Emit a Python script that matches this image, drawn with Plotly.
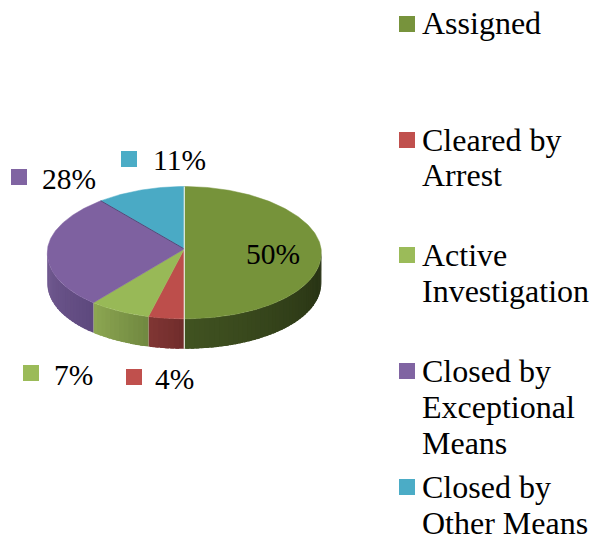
import math
import plotly.graph_objects as go

categories = ["Assigned", "Cleared by Arrest", "Active Investigation",
              "Closed by Exceptional Means", "Closed by Other Means"]
values = [50, 4, 7, 28, 11]
pct_labels = ["50%", "4%", "7%", "28%", "11%"]
legend_lines = [["Assigned"], ["Cleared by", "Arrest"], ["Active", "Investigation"],
                ["Closed by", "Exceptional", "Means"], ["Closed by", "Other Means"]]
colors = ["#77933C", "#C0504D", "#9BBB59", "#8064A2", "#4BACC6"]
top_colors = ["#76933A", "#BD4E4B", "#98B957", "#7E61A0", "#4AAAC5"]
side_start = ["#242E12", "#702C2B", "#708840", "#5E497E", "#3A8499"]
side_end = ["#415321", "#803634", "#8DA752", "#745C93", "#3A8499"]

# geometry of the projected disc (in page pixels)
CX, CY, RX, RY_BACK, RY_FRONT, DEPTH = 184.3, 249.0, 136.8, 62.5, 69.8, 30.0
PERSPECTIVE = 0.055
SERIF = "Liberation Serif"


def rim(t):
    r = math.radians(t)
    ry = RY_BACK if math.cos(r) > 0 else RY_FRONT
    return CX + RX * math.sin(r) * (1 - PERSPECTIVE * math.cos(r)), CY - ry * math.cos(r)


def mix(a, b, f):
    ca = [int(a[i:i + 2], 16) for i in (1, 3, 5)]
    cb = [int(b[i:i + 2], 16) for i in (1, 3, 5)]
    return "rgb(%d,%d,%d)" % tuple(round(p + (q - p) * f) for p, q in zip(ca, cb))


fig = go.Figure()
spans = []
acc = 0
for v in values:
    spans.append((acc * 3.6, (acc + v) * 3.6))
    acc += v


def poly(xs, ys, fill, width=0.0):
    fig.add_trace(go.Scatter(
        x=xs, y=ys, mode="lines", fill="toself", fillcolor=fill,
        line=dict(color=fill, width=width),
        hoverinfo="skip", showlegend=False))


# side wall, as shaded strips that overlap the next one so no seams show
for i, (a, b) in enumerate(spans):
    vis_a, vis_b = max(a, 90), min(b, 270)
    if vis_b <= vis_a:
        continue
    n = max(2, int((vis_b - vis_a) / 2))
    for k in range(n):
        t0 = vis_a + (vis_b - vis_a) * k / n
        t1 = min(vis_b, t0 + (vis_b - vis_a) / n + 1.5)
        ts = [t0, (t0 + t1) / 2, t1]
        rimpts = [rim(t) for t in ts]
        xs = [p[0] for p in rimpts] + [p[0] for p in reversed(rimpts)] + [rimpts[0][0]]
        ys = [p[1] for p in rimpts] + [p[1] + DEPTH for p in reversed(rimpts)] + [rimpts[0][1]]
        poly(xs, ys, mix(side_start[i], side_end[i], (k + 0.5) / n))

# top face
for i, (a, b) in enumerate(spans):
    n = max(6, int(b - a))
    pts = [rim(a + (b - a) * k / n) for k in range(n + 1)]
    xs = [CX] + [p[0] for p in pts] + [CX]
    ys = [CY] + [p[1] for p in pts] + [CY]
    poly(xs, ys, top_colors[i], 0.5)

# dark seam between purple and blue
p = rim(spans[3][1])
fig.add_trace(go.Scatter(x=[CX, p[0]], y=[CY, p[1]], mode="lines",
                         line=dict(color="#5A4478", width=1),
                         hoverinfo="skip", showlegend=False))
# pale seam down the front of the disc
fig.add_trace(go.Scatter(x=[CX, CX], y=[CY - RY_BACK, CY + RY_FRONT + DEPTH], mode="lines",
                         line=dict(color="#E6EDE0", width=1.2),
                         hoverinfo="skip", showlegend=False))

# data labels: text centre and key square position in page pixels
label_text_pos = [(273, 254), (174, 379), (73, 375), (68.5, 179), (179, 160)]
label_key_pos = [None, (134, 377), (31, 373), (19, 177), (129, 159)]
annotations = []
for i, lab in enumerate(pct_labels):
    x, y = label_text_pos[i]
    annotations.append(dict(x=x, y=y, text=lab, showarrow=False, xanchor="center", yanchor="middle",
                            font=dict(family=SERIF, size=29.5, color="#000000")))
    if label_key_pos[i]:
        kx, ky = label_key_pos[i]
        fig.add_trace(go.Scatter(x=[kx], y=[ky], mode="markers",
                                 marker=dict(symbol="square", size=16, color=colors[i], line=dict(width=0)),
                                 hoverinfo="skip", showlegend=False))

# right-hand legend
legend_key_y = [24, 140, 255, 371, 487]
legend_line_y = [[23], [139.5, 175], [255, 291], [371, 407, 443], [487, 523]]
for i, c in enumerate(colors):
    fig.add_trace(go.Scatter(x=[407], y=[legend_key_y[i]], mode="markers",
                             marker=dict(symbol="square", size=16, color=c, line=dict(width=0)),
                             hoverinfo="skip", showlegend=False))
    for line, y in zip(legend_lines[i], legend_line_y[i]):
        annotations.append(dict(x=422, y=y, text=line, showarrow=False, xanchor="left", yanchor="middle",
                                xshift=-2, font=dict(family=SERIF, size=32, color="#000000")))

fig.update_layout(
    width=590, height=538, margin=dict(l=0, r=0, t=0, b=0),
    paper_bgcolor="white", plot_bgcolor="white", showlegend=False,
    xaxis=dict(range=[0, 590], visible=False, fixedrange=True),
    yaxis=dict(range=[538, 0], visible=False, fixedrange=True),
    annotations=annotations,
)
fig.write_html("out.html", config={"displayModeBar": False},
               post_script="document.body.style.margin='0';document.body.style.overflow='hidden';")
